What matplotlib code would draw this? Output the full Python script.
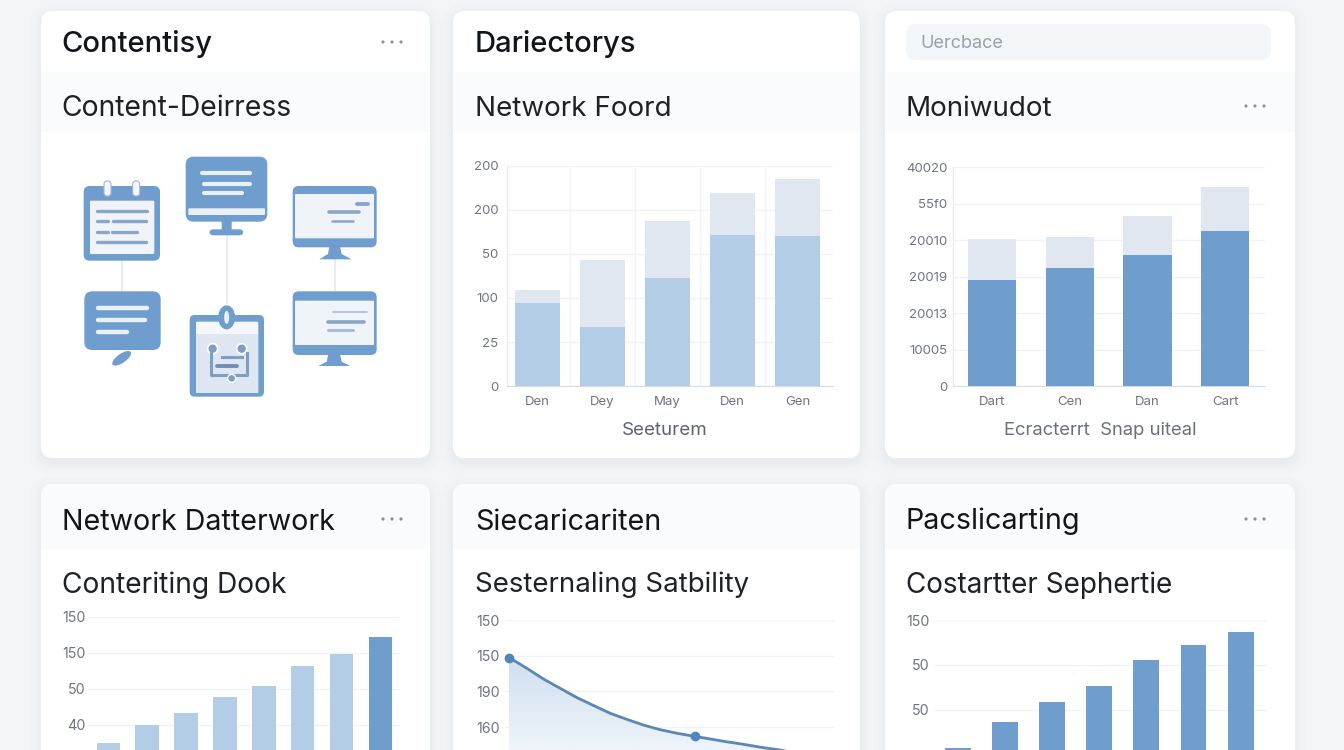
import numpy as np
import matplotlib
matplotlib.use("Agg")
import matplotlib.pyplot as plt
from matplotlib.patches import FancyBboxPatch, Rectangle, Circle, Ellipse, Polygon

plt.rcParams['font.family'] = ['Inter', 'DejaVu Sans']

# ---- data ----
net_cats = ['Den', 'Dey', 'May', 'Den', 'Gen']
net_ticks = [0, 50, 100, 150, 200, 250]
net_ticklabels = ['0', '25', '100', '50', '200', '200']
net_lower = [94, 67, 123, 172, 171]
net_total = [109, 143, 188, 219, 235]

mon_cats = ['Dart', 'Cen', 'Dan', 'Cart']
mon_ticks = [0, 100, 200, 300, 400, 500, 600]
mon_ticklabels = ['0', '10005', '20013', '20019', '20010', '55f0', '40020']
mon_lower = [290, 324, 358, 425]
mon_total = [403, 408, 466, 545]

dock_vals = [49, 100, 133, 179, 207, 264, 297, 345]
dock_ticks = [100, 200, 300, 400]
dock_ticklabels = ['40', '50', '150', '150']

stab_x = [0, 17.7, 34.3, 51, 67.7, 84.3, 101, 117.7, 134.3, 151, 167.7, 186, 201, 217.7, 234.3, 251, 271, 304]
stab_y = [295, 265, 235, 209, 183, 161, 139, 122, 106, 93, 83, 74, 67, 59, 52, 44, 36, 17]
stab_marked = [0, 186]
stab_marked_y = [295, 76]
stab_ticks = [100, 200, 300, 400]
stab_ticklabels = ['160', '190', '150', '150']

sep_vals = [16, 73, 118, 153, 211, 245, 273]
sep_ticks = [100, 200, 300]
sep_ticklabels = ['50', '50', '150']

card_titles = ['Contentisy', 'Dariectorys', None,
               'Network Datterwork', 'Siecaricariten', 'Pacslicarting']
card_subs = ['Content-Deirress', 'Network Foord', 'Moniwudot',
             'Conteriting Dook', 'Sesternaling Satbility', 'Costartter Sephertie']
net_xlabel = 'Seeturem'
mon_xlabel = 'Ecracterrt  Snap uiteal'
search_text = 'Uercbace'

# ---- style ----
BG = '#f3f5f8'
TINT = '#fafbfc'
BLUE = '#6f9dcd'
PALE = '#b3cde6'
GREY = '#e1e7f0'
INK = '#121519'
TICK = '#6f747c'

W, H = 1344, 750
fig = plt.figure(figsize=(W / 100, H / 100), dpi=100, facecolor=BG)
ov = fig.add_axes([0, 0, 1, 1], zorder=0)
ov.set_xlim(0, W)
ov.set_ylim(H, 0)
ov.axis('off')


def rbox(x0, y0, x1, y1, r, fc, z=1, ax=ov, **kw):
    p = FancyBboxPatch((x0, y0), x1 - x0, y1 - y0,
                       boxstyle=f'round,pad=0,rounding_size={r}',
                       fc=fc, ec='none', zorder=z, **kw)
    ax.add_patch(p)
    return p


cards = [(41, 11, 430, 458), (453, 11, 860, 458), (885, 11, 1295, 458),
         (41, 484, 430, 790), (453, 484, 860, 790), (885, 484, 1295, 790)]
bands = [(72, 132)] * 3 + [(484, 549)] * 3
for (x0, y0, x1, y1), (b0, b1) in zip(cards, bands):
    for g, a in ((12, .008), (9, .009), (6, .01), (4, .012), (2, .014)):
        rbox(x0 - g, y0 - g + 4, x1 + g, y1 + g + 4, 14 + g, '#66778f', z=1, alpha=a)
    card = rbox(x0, y0, x1, y1, 12, 'white', z=2)
    band = Rectangle((x0, b0), x1 - x0, b1 - b0, fc=TINT, ec='none', zorder=3)
    ov.add_patch(band)
    band.set_clip_path(card)

title_x = [61.5, 475, 906, 61.5, 475, 905.5]
title_y = [44, 44, 44, 522, 522, 521]
sub_y = [109, 109, 109, 585, 585, 585]
title_size = [21, 21, 21, 20.6, 20.7, 20.7]
title_weight = ['medium', 'medium', 'medium', 'normal', 'normal', 'normal']
sub_size = [20.4, 20, 20, 20.3, 19.9, 20.1]
for i in range(6):
    if card_titles[i]:
        ov.text(title_x[i], title_y[i], card_titles[i], fontsize=title_size[i], fontweight=title_weight[i],
                color=INK, va='center', ha='left', zorder=6)
    ov.text(title_x[i], sub_y[i], card_subs[i], fontsize=sub_size[i], color='#1e2227',
            va='center', ha='left', zorder=6)
for (cx, cy) in [(392, 42), (1255, 106), (392, 519), (1255, 519)]:
    for d in (-9, 0, 9):
        ov.add_patch(Circle((cx + d, cy), 1.6, fc='#8d9299', ec='none', zorder=6))
rbox(906, 24, 1271, 60, 10, '#f3f6f9', z=4)
ov.text(920, 44, search_text, fontsize=13, color='#98a0aa', va='center', zorder=6)


# ---- icons (drawn in pixel space) ----
def zx(v): return 40 + v / 3
def zy(v): return 130 + v / 3


def zbox(a, b, c, d, r, fc, z=5, **kw):
    return rbox(zx(a), zy(b), zx(c), zy(d), r, fc, z=z, **kw)


def zline(a, c, y, col, lw=2.4, z=7):
    ov.plot([zx(a), zx(c)], [zy(y), zy(y)], color=col, lw=lw, solid_capstyle='round', zorder=z)


def zpoly(pts, fc=BLUE, z=5):
    ov.add_patch(Polygon([(zx(a), zy(b)) for a, b in pts], fc=fc, ec='none', zorder=z))


for xa, ya, yb in [(245, 392, 484), (560, 316, 520), (884, 388, 484)]:
    ov.plot([zx(xa)] * 2, [zy(ya), zy(yb)], color='#e4e8ed', lw=1.2, zorder=4)

LINE = '#8aa6c6'
PANEL = '#f0f4f9'
WHITE_LINE = '#eaf0f7'
# calendar
zbox(131, 168, 360, 392, 6, BLUE)
zbox(150, 212, 343, 372, 1, PANEL, z=6)
for xl in (192, 278):
    b = zbox(xl, 153, xl + 21, 198, 3, '#f4f6f9', z=6)
    b.set_edgecolor('#9db9d8')
    b.set_linewidth(0.8)
zline(172, 320, 243, LINE)
zline(172, 205, 274, LINE)
zline(220, 318, 274, LINE)
zline(172, 205, 305, LINE)
zline(215, 290, 305, LINE)
zline(172, 318, 337, LINE)
# monitor top
zbox(437, 80, 682, 275, 8, BLUE)
zbox(445, 235, 675, 255, 1, WHITE_LINE, z=6)
zline(485, 630, 130, WHITE_LINE, lw=3)
zline(492, 630, 162, WHITE_LINE, lw=3)
zline(492, 605, 188, WHITE_LINE, lw=3)
zbox(545, 270, 575, 305, 1, BLUE)
zbox(508, 298, 610, 316, 4, BLUE)
# monitor right top
zbox(758, 168, 1010, 352, 6, BLUE)
zbox(765, 192, 1002, 325, 1, PANEL, z=6)
zline(950, 985, 221, LINE, lw=2.8)
zline(868, 958, 245, LINE, lw=2.6)
zline(875, 940, 273, LINE, lw=1.8)
zpoly([(868, 350), (900, 350), (905, 372), (935, 388), (838, 388), (864, 372)])
# chat
zbox(133, 484, 362, 660, 8, BLUE)
zline(175, 320, 533, WHITE_LINE, lw=3.2)
zline(175, 315, 571, WHITE_LINE, lw=3.2)
zline(175, 262, 607, WHITE_LINE, lw=3.2)
ov.add_patch(Ellipse((zx(245), zy(685)), 22, 9, angle=-35, fc=BLUE, ec='none', zorder=5))
# clipboard
zbox(449, 555, 672, 800, 5, BLUE)
zbox(468, 575, 655, 788, 1, '#f4f6fa', z=6)
ov.add_patch(Rectangle((zx(468), zy(612)), (655 - 468) / 3, (788 - 612) / 3, fc='#dde6f1', ec='none', zorder=6))
ov.add_patch(Ellipse((zx(560), zy(562)), 17, 24, fc=BLUE, ec='none', zorder=7))
ov.add_patch(Ellipse((zx(560), zy(562)), 5, 13, fc=WHITE_LINE, ec='none', zorder=8))
for xc in (518, 605):
    ov.add_patch(Circle((zx(xc), zy(656)), 5, fc='#7d9fc4', ec='white', lw=1.2, zorder=8))
ov.plot([zx(512), zx(512), zx(620), zx(620)], [zy(670), zy(735), zy(735), zy(670)], color='#7d9fc4', lw=2.2, zorder=8)
ov.plot([zx(545), zx(605)], [zy(680), zy(680)], color='#7d9fc4', lw=2.2, zorder=8)
zline(530, 590, 708, '#6d8fb6', lw=2.8, z=9)
ov.add_patch(Circle((zx(575), zy(745)), 4, fc='#7d9fc4', ec='white', lw=1, zorder=8))
# monitor right bottom
zbox(758, 484, 1010, 675, 6, BLUE)
zbox(765, 512, 1002, 645, 1, PANEL, z=6)
zline(880, 980, 547, '#a9bfd8', lw=1.2)
zline(865, 972, 575, LINE, lw=2.6)
zline(865, 940, 601, '#a3bcd8', lw=2.2)
zpoly([(865, 672), (900, 672), (905, 695), (930, 708), (835, 708), (860, 695)])


# ---- charts ----
def chart(x0, x1, ytop, ybot, xlim, ylim, yticks, ylabels, pad=6, size=9.5):
    ax = fig.add_axes([x0 / W, 1 - ybot / H, (x1 - x0) / W, (ybot - ytop) / H], zorder=5)
    ax.patch.set_alpha(0)
    ax.set_xlim(*xlim)
    ax.set_ylim(*ylim)
    ax.set_yticks(yticks, ylabels)
    ax.tick_params(axis='both', length=0, labelsize=size, labelcolor=TICK)
    ax.tick_params(axis='y', pad=pad)
    ax.tick_params(axis='x', pad=7)
    ax.grid(axis='y', color='#f0f3f6', lw=1)
    ax.set_axisbelow(True)
    for s in ('top', 'right', 'left'):
        ax.spines[s].set_visible(False)
    ax.spines['bottom'].set_color('#d6dce4')
    return ax


a = chart(506.7, 832.7, 166, 386, (-0.47, 4.54), (0, 250), net_ticks, net_ticklabels)
xs = np.arange(len(net_cats))
a.bar(xs, net_total, width=0.7, color=GREY, zorder=2)
a.bar(xs, net_lower, width=0.7, color=PALE, zorder=3)
a.set_xticks(xs, net_cats)
a.set_xticks(xs[:-1] + .5, minor=True)
a.tick_params(axis='x', which='minor', length=0)
a.grid(axis='x', which='minor', color='#f2f4f7', lw=1)
a.spines['left'].set_visible(True)
a.spines['left'].set_color('#e6eaef')
a.set_xlabel(net_xlabel, fontsize=13.5, color='#5e636b', labelpad=10.5, x=(665 - 506.7) / 326)

a = chart(953, 1265, 167, 386, (-0.5, 3.51), (0, 600), mon_ticks, mon_ticklabels, pad=4)
xs = np.arange(len(mon_cats))
a.bar(xs, mon_total, width=0.62, color=GREY, zorder=2)
a.bar(xs, mon_lower, width=0.62, color=BLUE, zorder=3)
a.set_xticks(xs, mon_cats)
a.spines['left'].set_visible(True)
a.spines['left'].set_color('#e6eaef')
a.set_xlabel(mon_xlabel, fontsize=13.3, color='#6c7179', labelpad=10.5, x=(1100 - 953) / 312)

a = chart(88, 400, 617, 750, (-0.52, 7.5), (30.5, 400), dock_ticks, dock_ticklabels, pad=2, size=10.3)
xs = np.arange(len(dock_vals))
a.bar(xs, dock_vals, width=0.6, color=[PALE] * (len(dock_vals) - 1) + [BLUE], zorder=2)
a.set_xticks([])
a.spines['bottom'].set_visible(False)

a = chart(505, 835, 620, 750, (-4, 326), (36, 400), stab_ticks, stab_ticklabels, pad=4, size=10.3)
line_x, line_y = np.array(stab_x), np.array(stab_y)
grad = np.linspace(0, 1, 64).reshape(-1, 1)
cmap = matplotlib.colors.LinearSegmentedColormap.from_list('g', ['#cfe0f0', '#eef4fa'])
im = a.imshow(grad, extent=(0, 326, 36, 296), aspect='auto', cmap=cmap, origin='upper', zorder=1)
a.set_xlim(-4, 326)
a.set_ylim(36, 400)
clip = Polygon(list(zip(stab_x, stab_y)) + [(stab_x[-1], 0), (0, 0)], transform=a.transData, fc='none', ec='none')
a.add_patch(clip)
im.set_clip_path(clip)
a.plot(line_x, line_y, color='#5a87b5', lw=2, zorder=3)
a.plot(stab_marked, stab_marked_y, 'o', ms=6, color='#4f86bd', zorder=4, clip_on=False)
a.set_xticks([])
a.spines['bottom'].set_visible(False)

a = chart(935, 1267, 620, 750, (-0.49, 6.56), (11, 300), sep_ticks, sep_ticklabels, pad=4, size=10.3)
xs = np.arange(len(sep_vals))
a.bar(xs, sep_vals, width=0.55, color=BLUE, zorder=2)
a.set_xticks([])
a.spines['bottom'].set_visible(False)

fig.savefig('out.png', dpi=100, facecolor=BG)
